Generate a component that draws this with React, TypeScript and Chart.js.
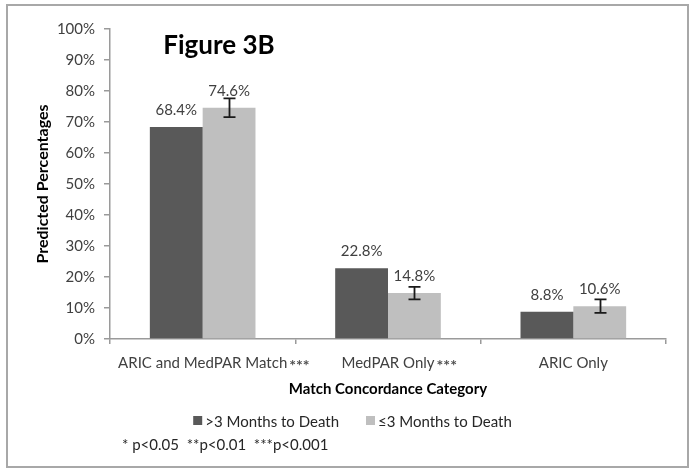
import React, { useEffect, useRef } from "react";
import { Chart, registerables } from "chart.js";

Chart.register(...registerables);

const chartTitle = "Figure 3B";
const categories = ["ARIC and MedPAR Match", "MedPAR Only", "ARIC Only"];
const significance = ["***", "***", ""];
const seriesNames = [">3 Months to Death", "≤3 Months to Death"];
const over3Months = [68.4, 22.8, 8.8];
const under3Months = [74.6, 14.8, 10.6];
const under3Error = [3.0, 2.0, 2.2];
const yAxisTitle = "Predicted Percentages";
const xAxisTitle = "Match Concordance Category";
const footnote = "* p<0.05  **p<0.01  ***p<0.001";

const FONT = "Lato, 'Open Sans', sans-serif";
const DARK = "#595959";
const LIGHT = "#bfbfbf";
const TEXT = "#404040";

export default function App() {
  const ref = useRef<HTMLCanvasElement | null>(null);

  useEffect(() => {
    const canvas = ref.current;
    if (!canvas) return;

    const framePlugin = {
      id: "frame",
      beforeDraw(chart: any) {
        const { ctx } = chart;
        ctx.save();
        ctx.fillStyle = "#ffffff";
        ctx.fillRect(0, 0, chart.width, chart.height);
        ctx.strokeStyle = "#a8a8a8";
        ctx.lineWidth = 2;
        ctx.strokeRect(7, 5, 681, 462);
        ctx.restore();
      },
    };

    const annotations = {
      id: "annotations",
      afterDatasetsDraw(chart: any) {
        const { ctx } = chart;
        const y = chart.scales.y;
        ctx.save();
        // error bars on the second series
        const meta1 = chart.getDatasetMeta(1);
        ctx.strokeStyle = "#1a1a1a";
        ctx.lineWidth = 1.8;
        meta1.data.forEach((bar: any, i: number) => {
          const v = under3Months[i];
          const e = under3Error[i];
          const top = y.getPixelForValue(v + e);
          const bot = y.getPixelForValue(v - e);
          const x = Math.round(bar.x) + 0.5;
          ctx.beginPath();
          ctx.moveTo(x, top);
          ctx.lineTo(x, bot);
          ctx.moveTo(x - 6, top);
          ctx.lineTo(x + 6, top);
          ctx.moveTo(x - 6, bot);
          ctx.lineTo(x + 6, bot);
          ctx.stroke();
        });
        // data labels
        ctx.fillStyle = TEXT;
        ctx.font = `15px ${FONT}`;
        ctx.textAlign = "center";
        ctx.textBaseline = "middle";
        [over3Months, under3Months].forEach((vals, d) => {
          const meta = chart.getDatasetMeta(d);
          meta.data.forEach((bar: any, i: number) => {
            ctx.fillText(vals[i].toFixed(1) + "%", bar.x, bar.y - 17);
          });
        });
        ctx.restore();
      },
      afterDraw(chart: any) {
        const { ctx } = chart;
        const xs = chart.scales.x;
        ctx.save();
        // title
        ctx.fillStyle = "#000000";
        ctx.font = `bold 26px ${FONT}`;
        ctx.textAlign = "center";
        ctx.textBaseline = "alphabetic";
        ctx.fillText(chartTitle, 219, 54);
        // significance stars after category labels
        ctx.textBaseline = "middle";
        const labelY = xs.top + 5 + 10 + 9;
        categories.forEach((c, i) => {
          if (!significance[i]) return;
          const cx = xs.getPixelForTick(i);
          ctx.font = `15px ${FONT}`;
          const w = ctx.measureText(c).width;
          ctx.fillStyle = "#505050";
          ctx.textAlign = "left";
          ctx.font = `bold 16px ${FONT}`;
          ctx.fillText(significance[i], cx + w / 2 + 2, labelY + 3);
        });
        // legend
        const legendY = 422;
        const colors = [DARK, LIGHT];
        ctx.font = `15px ${FONT}`;
        const box = 9, gapText = 3, gapItems = 27;
        const widths = seriesNames.map((s) => ctx.measureText(s).width);
        const total =
          widths.reduce((a, b) => a + b, 0) + seriesNames.length * (box + gapText) + gapItems * (seriesNames.length - 1);
        let lx = 352.5 - total / 2;
        seriesNames.forEach((s, i) => {
          ctx.fillStyle = colors[i];
          ctx.fillRect(lx, legendY - 6, box, box);
          ctx.fillStyle = "#262626";
          ctx.textAlign = "left";
          ctx.textBaseline = "middle";
          ctx.fillText(s, lx + box + gapText, legendY);
          lx += box + gapText + widths[i] + gapItems;
        });
        // footnote
        ctx.fillStyle = "#262626";
        ctx.font = `15px ${FONT}`;
        ctx.textAlign = "left";
        ctx.textBaseline = "middle";
        ctx.fillText(footnote, 122, 445);
        ctx.restore();
      },
    };

    const chart = new Chart(canvas, {
      type: "bar",
      data: {
        labels: categories,
        datasets: [
          {
            label: seriesNames[0],
            data: over3Months,
            backgroundColor: DARK,
            borderWidth: 0,
          },
          {
            label: seriesNames[1],
            data: under3Months,
            backgroundColor: LIGHT,
            borderWidth: 0,
          },
        ],
      },
      options: {
        responsive: false,
        animation: false,
        devicePixelRatio: 1,
        layout: { padding: { left: 0, top: 29, right: 29, bottom: 82 } },
        datasets: {
          bar: { categoryPercentage: 0.57, barPercentage: 1.0 },
        },
        plugins: {
          legend: { display: false },
          title: { display: false },
          tooltip: { enabled: false },
        },
        scales: {
          x: {
            afterFit(scale: any) {
              scale.height = 55;
            },
            grid: {
              display: true,
              drawOnChartArea: false,
              offset: true,
              tickLength: 5,
              color: "#9a9a9a",
              lineWidth: 1.5,
            },
            border: { display: true, color: "#9a9a9a", width: 1.5 },
            ticks: {
              color: TEXT,
              padding: 10,
              font: { family: FONT, size: 15 },
              maxRotation: 0,
            },
            title: {
              display: true,
              text: xAxisTitle,
              color: "#000000",
              font: { family: FONT, size: 15, weight: "bold" },
              padding: { top: 0, bottom: -4 },
            },
          },
          y: {
            min: 0,
            max: 100,
            afterFit(scale: any) {
              scale.width = 110;
            },
            grid: {
              display: true,
              drawOnChartArea: false,
              tickLength: 6,
              color: "#9a9a9a",
              lineWidth: 1.5,
            },
            border: { display: true, color: "#9a9a9a", width: 1.5 },
            ticks: {
              stepSize: 10,
              color: TEXT,
              padding: 9,
              font: { family: FONT, size: 15 },
              callback: (v: any) => v + "%",
            },
            title: {
              display: true,
              text: yAxisTitle,
              color: "#000000",
              font: { family: FONT, size: 16, weight: "bold" },
              padding: { top: 33, bottom: 0 },
            },
          },
        },
      },
      plugins: [framePlugin, annotations],
    });

    return () => chart.destroy();
  }, []);

  return (
    <div style={{ position: "absolute", left: 0, top: 0, width: 695, height: 476 }}>
      <canvas ref={ref} width={695} height={476} style={{ display: "block" }} />
    </div>
  );
}
